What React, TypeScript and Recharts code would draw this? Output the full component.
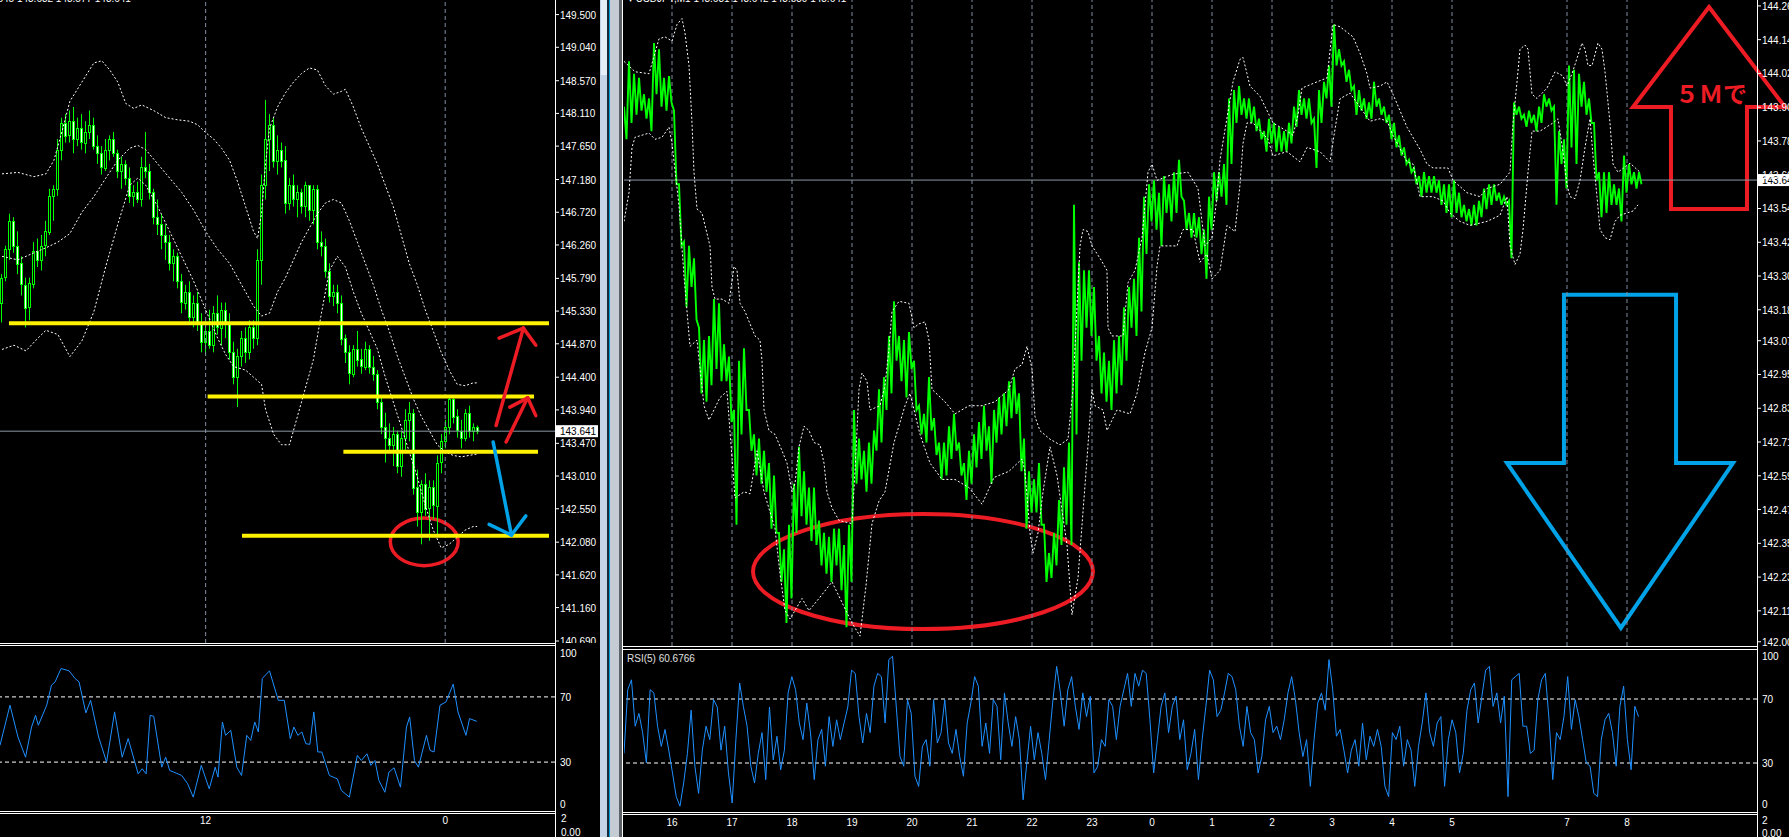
import React from 'react'
import {
  ComposedChart,
  LineChart,
  Line,
  Bar,
  XAxis,
  YAxis,
  ReferenceLine,
  ReferenceArea,
} from 'recharts'

const FONT = '"Liberation Sans", Arial, sans-serif'
const WHITE = '#ffffff'
const LIME = '#00ff00'
const RSI_BLUE = '#1e90ff'
const GRID = '#7f8ca0'
const NOW_LINE = '#8c99a6'
const YELLOW = '#fff200'
const RED = '#ed1c24'
const BLUE = '#00a2e8'

// ---------- left pane (candles) ----------
const LEFT_SLOTS = 139
const LEFT_DOMAIN = [140.662, 149.705]

const leftOpen = [
  145.45, 145.8, 146.2, 146.6, 146.25, 146.0, 145.7, 145.38, 145.72, 146.18,
  146.05, 146.25, 146.45, 146.95, 147.05, 147.6, 147.98, 147.8, 148.0, 147.75,
  147.9, 147.7, 147.85, 147.95, 147.65, 147.55, 147.35, 147.6, 147.75, 147.55,
  147.3, 147.4, 147.2, 146.95, 147.0, 146.9, 147.35, 147.3, 147.0, 146.65,
  146.55, 146.4, 146.3, 146.0, 146.1, 145.75, 145.45, 145.6, 145.25, 145.45,
  145.15, 144.9, 145.05, 144.85, 145.3, 145.1, 145.35, 145.15, 144.75, 144.4,
  144.7, 144.95, 144.75, 145.1, 144.95, 146.05, 147.1, 147.75, 147.95, 147.45,
  147.6, 147.45, 146.85, 147.1, 146.9, 147.0, 146.8, 147.1, 146.75, 147.05,
  146.3, 146.25, 145.9, 145.55, 145.6, 145.45, 144.95, 144.75, 144.45, 144.8,
  144.65, 144.55, 144.8, 144.55, 144.45, 144.05, 143.7, 143.55, 143.45, 143.6,
  143.15, 143.55, 143.8, 143.9, 142.85, 142.5, 142.9, 142.55, 142.85, 142.6,
  143.2, 143.5, 143.7, 144.1, 143.85, 143.65, 143.55, 143.9, 143.65, 143.7,
]
const leftHigh = [
  145.85, 146.25, 146.7, 146.65, 146.45, 146.1, 145.8, 145.8, 146.3, 146.35,
  146.4, 146.6, 147.05, 147.1, 147.75, 148.05, 148.1, 148.15, 148.2, 148.05,
  148.1, 148.0, 148.15, 148.05, 147.8, 147.65, 147.75, 147.8, 147.85, 147.6,
  147.5, 147.45, 147.35, 147.1, 147.15, 147.5, 147.85, 147.4, 147.05, 146.9,
  146.7, 146.55, 146.4, 146.2, 146.15, 145.85, 145.7, 145.75, 145.55, 145.6,
  145.3, 145.2, 145.35, 145.4, 145.55, 145.45, 145.45, 145.3, 144.9, 144.8,
  145.05, 145.1, 145.2, 145.2, 146.2, 147.25, 148.3, 148.1, 148.05, 147.8,
  147.7, 147.65, 147.2, 147.25, 147.1, 147.05, 147.15, 147.1, 147.1, 147.1,
  146.45, 146.35, 146.0, 145.7, 145.7, 145.55, 145.0, 144.85, 144.85, 145.05,
  144.8, 144.9, 144.85, 144.7, 144.5, 144.15, 143.9, 143.75, 143.7, 143.65,
  143.65, 143.95, 144.05, 143.95, 143.1, 142.95, 143.05, 142.95, 142.95, 143.3,
  143.6, 143.8, 144.15, 144.15, 143.95, 143.8, 143.95, 144.0, 143.75, 143.72,
]
const leftLow = [
  145.17, 145.75, 146.05, 146.15, 145.85, 145.55, 145.1, 145.2, 145.65, 145.95,
  145.9, 146.1, 146.4, 146.6, 146.95, 147.45, 147.7, 147.7, 147.55, 147.65,
  147.6, 147.55, 147.75, 147.6, 147.4, 147.25, 147.3, 147.45, 147.5, 147.2,
  147.05, 147.1, 146.85, 146.8, 146.85, 146.8, 147.2, 146.9, 146.55, 146.4,
  146.2, 146.05, 145.9, 145.75, 145.65, 145.3, 145.35, 145.15, 145.1, 145.05,
  144.75, 144.7, 144.8, 144.75, 145.0, 144.85, 144.95, 144.65, 144.3, 143.98,
  144.55, 144.6, 144.65, 144.8, 144.85, 145.7, 146.9, 147.3, 147.35, 147.25,
  147.35, 146.7, 146.75, 146.8, 146.65, 146.7, 146.65, 146.6, 146.55, 146.2,
  146.1, 145.8, 145.45, 145.4, 145.3, 144.85, 144.6, 144.3, 144.4, 144.55,
  144.45, 144.5, 144.45, 144.35, 143.95, 143.6, 143.2, 143.35, 143.15, 143.05,
  143.0, 143.35, 143.5, 142.75, 142.3, 142.05, 142.45, 142.1, 142.4, 142.15,
  143.05, 143.4, 143.6, 143.75, 143.55, 143.4, 143.5, 143.55, 143.5, 143.6,
]
const leftClose = [
  145.8, 146.2, 146.6, 146.25, 146.0, 145.7, 145.38, 145.72, 146.18, 146.05,
  146.25, 146.45, 146.95, 147.05, 147.6, 147.98, 147.8, 148.0, 147.75, 147.9,
  147.7, 147.85, 147.95, 147.65, 147.55, 147.35, 147.6, 147.75, 147.55, 147.3,
  147.4, 147.2, 146.95, 147.0, 146.9, 147.35, 147.3, 147.0, 146.65, 146.55,
  146.4, 146.3, 146.0, 146.1, 145.75, 145.45, 145.6, 145.25, 145.45, 145.15,
  144.9, 145.05, 144.85, 145.3, 145.1, 145.35, 145.15, 144.75, 144.4, 144.7,
  144.95, 144.75, 145.1, 144.95, 146.05, 147.1, 147.75, 147.95, 147.45, 147.6,
  147.45, 146.85, 147.1, 146.9, 147.0, 146.8, 147.1, 146.75, 147.05, 146.3,
  146.25, 145.9, 145.55, 145.6, 145.45, 144.95, 144.75, 144.45, 144.8, 144.65,
  144.55, 144.8, 144.55, 144.45, 144.05, 143.7, 143.55, 143.45, 143.6, 143.15,
  143.55, 143.8, 143.9, 142.85, 142.5, 142.9, 142.55, 142.85, 142.6, 143.2,
  143.5, 143.7, 144.1, 143.85, 143.65, 143.55, 143.9, 143.65, 143.7, 143.641,
]

// bollinger bands, [bar index, price]
const leftUpper = [
  [0, 147.26], [4, 147.28], [8, 147.22], [11, 147.26], [13, 147.45], [15, 147.85], [17, 148.28],
  [20, 148.55], [23, 148.82], [25, 148.85], [27, 148.72], [29, 148.55], [31, 148.25], [33, 148.18],
  [35, 148.23], [38, 148.15], [41, 148.05], [44, 148.02], [47, 148.0], [49, 147.95], [51, 147.84],
  [53, 147.75], [55, 147.62], [57, 147.45], [59, 147.15], [61, 146.8], [63, 146.45], [64, 146.35],
  [65, 146.7], [66, 147.4], [67, 147.9], [69, 148.2], [71, 148.4], [73, 148.55], [75, 148.67],
  [77, 148.75], [79, 148.72], [81, 148.5], [83, 148.38], [85, 148.42], [86, 148.45], [88, 148.2],
  [90, 147.9], [92, 147.65], [94, 147.4], [96, 147.1], [98, 146.8], [100, 146.4], [102, 146.0],
  [104, 145.7], [106, 145.35], [108, 145.05], [110, 144.75], [112, 144.5], [114, 144.3],
  [116, 144.28], [118, 144.32], [119, 144.32],
]
const leftMiddle = [
  [0, 146.1], [4, 146.05], [8, 146.15], [11, 146.22], [14, 146.3], [17, 146.42], [20, 146.72],
  [23, 146.94], [26, 147.2], [29, 147.45], [32, 147.62], [34, 147.66], [36, 147.6], [39, 147.4],
  [42, 147.2], [45, 147.0], [48, 146.75], [51, 146.45], [54, 146.2], [57, 146.0], [60, 145.7],
  [63, 145.4], [65, 145.26], [67, 145.3], [69, 145.6], [71, 145.8], [73, 146.05], [75, 146.3],
  [77, 146.5], [79, 146.7], [81, 146.85], [83, 146.9], [85, 146.85], [87, 146.6], [89, 146.3],
  [91, 146.0], [93, 145.7], [95, 145.35], [97, 145.05], [99, 144.7], [101, 144.4], [103, 144.1],
  [105, 143.85], [107, 143.65], [109, 143.45], [111, 143.35], [113, 143.3], [115, 143.28],
  [117, 143.3], [119, 143.32],
]
const leftLower = [
  [0, 144.79], [3, 144.85], [6, 144.77], [9, 144.95], [11, 145.06], [14, 145.0], [17, 144.69],
  [20, 144.91], [23, 145.32], [26, 145.96], [29, 146.55], [32, 147.1], [34, 147.2], [36, 147.1],
  [39, 146.8], [42, 146.45], [45, 146.1], [48, 145.75], [51, 145.35], [54, 144.95], [56, 144.72],
  [58, 144.55], [61, 144.5], [63, 144.4], [65, 144.3], [66, 143.95], [68, 143.6], [70, 143.45],
  [72, 143.45], [74, 143.85], [76, 144.25], [78, 144.65], [80, 145.3], [82, 145.9], [84, 146.1],
  [86, 145.95], [88, 145.6], [90, 145.3], [92, 145.05], [94, 144.8], [96, 144.4], [98, 144.05],
  [100, 143.7], [102, 143.35], [104, 143.0], [106, 142.6], [108, 142.25], [110, 142.0],
  [112, 142.05], [114, 142.15], [116, 142.25], [118, 142.3], [119, 142.3],
]

const leftRsi = [
  [-0.5, 40.3], [2, 64.9], [4, 45.4], [5.9, 33], [7.4, 51.5], [8.4, 58.7], [9.1, 52.6], [11.2, 64.9],
  [12.4, 77.2], [13.3, 79.2], [14.8, 87.4], [16.8, 86], [18.3, 81.3], [19.3, 79.2], [21, 60.2],
  [22.2, 67.9], [24.2, 45.4], [26.2, 30], [28.2, 60.8], [30.1, 33], [31.6, 44.4], [34.1, 22.8],
  [35.1, 25.9], [36.1, 22.8], [37.1, 58.7], [38, 58.1], [40, 26.9], [41, 33], [42, 24.9], [45, 21.8],
  [46.5, 16.7], [47.9, 8.5], [49.9, 28], [51.9, 13.6], [53.4, 26.9], [54.1, 20.8], [55.2, 54.6],
  [56, 46.4], [57.3, 49.5], [58.8, 26.9], [60, 21.8], [61.3, 46.4], [62.3, 43.3], [63.3, 54.6],
  [64.2, 48.5], [65.2, 81.3], [67, 86], [69.2, 67.9], [70.7, 67.9], [72.2, 44.4], [73.1, 51.5],
  [74.1, 46.4], [75.1, 48.5], [76.1, 41.3], [77.1, 40.9], [78.1, 60.8], [79.1, 36.2], [80.1, 36.2],
  [82, 21.8], [84, 19.7], [85, 12.6], [87, 8.5], [89, 34.1], [90, 31], [91.4, 35.1], [92.4, 28],
  [93.4, 31], [94.4, 18.7], [95.9, 11.5], [96.9, 23.8], [98.2, 26.5], [99.8, 14.6], [101.3, 51.5],
  [102.1, 57.7], [103.3, 31], [104.3, 26.9], [106.3, 46.4], [107.2, 37.2], [108.2, 36.2],
  [109.7, 64.9], [111.2, 66.9], [113, 77.8], [114.2, 60.8], [116.2, 46.4], [117.1, 56.7], [118.9, 55],
]

const leftPriceTicks = [
  149.5, 149.04, 148.57, 148.11, 147.65, 147.18, 146.72, 146.26, 145.79, 145.33,
  144.87, 144.4, 143.94, 143.47, 143.01, 142.55, 142.08, 141.62, 141.16, 140.69,
]
const leftTimeTicks = [51, 111]
const leftTimeLabels = ['12', '0']

// hand-drawn levels: [from bar, to bar, price]
const leftLevels = [
  [1.75, 137, 145.16],
  [51.5, 133.25, 144.13],
  [85.5, 134.25, 143.35],
  [60.1, 137, 142.17],
]
// arrows: tail, head, barb, barb
const leftArrows = [
  { color: RED, pts: [[123.75, 143.72], [130.58, 145.09], [124.5, 144.95], [133.7, 144.85]] },
  { color: RED, pts: [[126.25, 143.49], [131.65, 144.11], [127.2, 143.98], [133.7, 143.86]] },
  { color: BLUE, pts: [[123, 143.49], [127.6, 142.18], [122, 142.33], [131.2, 142.45]] },
]

// ---------- right pane (M1) ----------
const RIGHT_DOMAIN = [141.985, 144.281]
const RIGHT_SPAN = 1133
const PRICE_STEP = 5
const RSI_STEP = 3.73

const rightHigh = [
  143.902, 144.063, 144.019, 144.004, 143.946, 143.931, 144.128, 144.106, 144.004, 144.011,
  143.888, 143.626, 143.422, 143.407, 143.363, 143.116, 143.072, 143.087, 143.218, 143.203,
  143.057, 143.014, 142.824, 142.999, 143.043, 142.824, 142.737, 142.722, 142.679, 142.635,
  142.591, 142.387, 142.329, 142.416, 142.562, 142.693, 142.606, 142.548, 142.548, 142.431,
  142.387, 142.373, 142.402, 142.402, 142.344, 142.416, 142.824, 142.722, 142.679, 142.708,
  142.751, 142.897, 142.941, 143.087, 143.21, 143.087, 143.072, 143.101, 142.999, 142.839,
  142.81, 142.941, 142.795, 142.708, 142.708, 142.766, 142.81, 142.708, 142.635, 142.679,
  142.737, 142.781, 142.839, 142.766, 142.824, 142.868, 142.883, 142.926, 142.941, 142.883,
  142.722, 142.606, 142.577, 142.635, 142.416, 142.315, 142.387, 142.504, 142.62, 142.708,
  143.553, 143.349, 143.32, 143.32, 143.261, 143.087, 143.028, 142.999, 143.072, 143.087,
  143.189, 143.261, 143.29, 143.436, 143.582, 143.626, 143.64, 143.596, 143.655, 143.626,
  143.669, 143.713, 143.567, 143.524, 143.524, 143.509, 143.465, 143.582, 143.669, 143.669,
  143.698, 143.931, 143.961, 143.975, 143.931, 143.931, 143.902, 143.859, 143.815, 143.859,
  143.844, 143.83, 143.815, 143.844, 143.902, 143.961, 143.931, 143.931, 143.859, 143.961,
  143.99, 144.048, 144.194, 144.106, 144.063, 144.033, 143.975, 143.961, 143.931, 143.917,
  143.99, 143.931, 143.902, 143.873, 143.844, 143.8, 143.757, 143.713, 143.684, 143.655,
  143.669, 143.655, 143.655, 143.64, 143.626, 143.626, 143.64, 143.596, 143.553, 143.538,
  143.553, 143.567, 143.611, 143.626, 143.626, 143.596, 143.582, 143.567, 143.917, 143.902,
  143.873, 143.888, 143.873, 143.902, 143.946, 143.931, 143.902, 143.815, 143.786, 144.048,
  144.033, 144.019, 143.99, 143.931, 143.844, 143.669, 143.669, 143.669, 143.626, 143.611,
  143.728, 143.698, 143.669, 143.669,
]
const rightLow = [
  143.786, 143.844, 143.873, 143.888, 143.859, 143.815, 143.946, 143.902, 143.888, 143.917,
  143.626, 143.407, 143.189, 143.261, 143.145, 142.883, 142.853, 142.912, 142.97, 142.926,
  142.926, 142.781, 142.416, 142.737, 142.824, 142.679, 142.591, 142.562, 142.533, 142.402,
  142.387, 142.213, 142.067, 142.154, 142.387, 142.446, 142.416, 142.358, 142.344, 142.271,
  142.242, 142.213, 142.271, 142.183, 142.052, 142.213, 142.562, 142.577, 142.533, 142.562,
  142.679, 142.708, 142.824, 142.883, 142.999, 142.926, 142.868, 142.97, 142.824, 142.737,
  142.708, 142.751, 142.664, 142.577, 142.591, 142.65, 142.679, 142.591, 142.504, 142.562,
  142.62, 142.65, 142.679, 142.562, 142.708, 142.737, 142.766, 142.795, 142.81, 142.606,
  142.402, 142.46, 142.46, 142.416, 142.213, 142.227, 142.271, 142.344, 142.416, 142.344,
  142.737, 142.999, 143.116, 143.087, 142.999, 142.883, 142.853, 142.824, 142.883, 142.912,
  142.999, 143.116, 143.087, 143.174, 143.378, 143.494, 143.465, 143.407, 143.524, 143.494,
  143.524, 143.582, 143.465, 143.436, 143.436, 143.378, 143.29, 143.465, 143.567, 143.582,
  143.553, 143.698, 143.844, 143.873, 143.859, 143.844, 143.815, 143.786, 143.742, 143.771,
  143.742, 143.742, 143.742, 143.771, 143.83, 143.873, 143.859, 143.844, 143.684, 143.844,
  143.931, 143.902, 144.048, 144.048, 143.99, 143.961, 143.873, 143.888, 143.859, 143.859,
  143.902, 143.873, 143.844, 143.786, 143.757, 143.728, 143.698, 143.669, 143.626, 143.582,
  143.596, 143.596, 143.596, 143.553, 143.524, 143.509, 143.524, 143.509, 143.494, 143.48,
  143.48, 143.509, 143.538, 143.553, 143.567, 143.553, 143.553, 143.363, 143.873, 143.859,
  143.83, 143.844, 143.815, 143.844, 143.902, 143.888, 143.553, 143.698, 143.611, 143.757,
  143.698, 143.902, 143.873, 143.844, 143.64, 143.509, 143.524, 143.553, 143.553, 143.494,
  143.596, 143.626, 143.611, 143.626,
]

// [minute, price]
const rightUpper = [
  [0, 144.063], [11, 144.026], [25, 144.019], [35, 144.143], [41, 144.15], [48, 144.135],
  [53, 144.194], [58, 144.215], [61, 144.164], [65, 144.048], [68, 143.844], [70, 143.669],
  [73, 143.538], [78, 143.524], [83, 143.451], [86, 143.407], [88, 143.261], [91, 143.218],
  [98, 143.218], [105, 143.203], [110, 143.334], [113, 143.32], [116, 143.203], [121, 143.174],
  [126, 143.13], [131, 143.087], [136, 143.072], [138, 142.999], [140, 142.824], [145, 142.751],
  [151, 142.737], [158, 142.679], [163, 142.635], [168, 142.533], [171, 142.562], [175, 142.693],
  [180, 142.766], [185, 142.751], [190, 142.708], [196, 142.7], [200, 142.635], [203, 142.533],
  [208, 142.475], [215, 142.431], [228, 142.42], [231, 142.606], [235, 142.897], [238, 142.955],
  [243, 142.926], [246, 142.824], [256, 142.839], [261, 142.912], [265, 143.043], [268, 143.174],
  [275, 143.21], [285, 143.203], [290, 143.116], [295, 143.13], [301, 143.137], [305, 143.072],
  [308, 142.897], [321, 142.853], [331, 142.81], [345, 142.839], [358, 142.839], [371, 142.853],
  [385, 142.897], [391, 142.97], [398, 142.985], [403, 143.05], [408, 142.97], [411, 142.8],
  [416, 142.75], [426, 142.72], [436, 142.7], [444, 142.72], [449, 142.9], [456, 143.407],
  [459, 143.465], [464, 143.458], [468, 143.407], [476, 143.363], [483, 143.32], [484, 143.116],
  [488, 143.087], [499, 143.087], [504, 143.276], [511, 143.32], [518, 143.436], [524, 143.669],
  [528, 143.698], [533, 143.64], [549, 143.662], [564, 143.669], [574, 143.611], [578, 143.494],
  [581, 143.407], [588, 143.436], [593, 143.582], [596, 143.713], [609, 143.99], [616, 144.07],
  [619, 144.077], [623, 144.019], [626, 143.975], [636, 143.939], [649, 143.844], [663, 143.815],
  [669, 143.8], [674, 143.873], [678, 143.968], [693, 143.99], [703, 144.004], [709, 144.194],
  [716, 144.186], [729, 144.15], [736, 144.092], [743, 144.019], [746, 143.968], [756, 143.975],
  [763, 143.99], [769, 143.946], [783, 143.829], [796, 143.75], [803, 143.698], [809, 143.684],
  [824, 143.684], [829, 143.64], [843, 143.596], [856, 143.582], [863, 143.611], [876, 143.626],
  [886, 143.669], [889, 143.844], [893, 143.99], [896, 144.106], [901, 144.121], [904, 144.106],
  [908, 143.946], [913, 143.931], [923, 143.968], [931, 144.026], [939, 144.011], [943, 143.975],
  [948, 144.019], [958, 144.128], [961, 144.106], [964, 144.048], [968, 144.048], [974, 144.128],
  [978, 144.106], [981, 144.026], [986, 143.844], [989, 143.698], [994, 143.669], [1006, 143.701],
  [1016, 143.669],
]
const rightLower = [
  [0, 143.494], [5, 143.596], [8, 143.757], [11, 143.793], [25, 143.808], [31, 143.786],
  [38, 143.793], [45, 143.829], [48, 143.771], [55, 143.55], [60, 143.3], [66, 143.05],
  [73, 143.072], [80, 142.839], [85, 142.788], [96, 142.868], [103, 142.89], [111, 142.511],
  [120, 142.533], [126, 142.526], [133, 142.679], [140, 142.533], [151, 142.402], [156, 142.242],
  [161, 142.111], [166, 142.081], [178, 142.154], [185, 142.111], [195, 142.154], [208, 142.213],
  [220, 142.125], [228, 142.067], [236, 142.02], [242, 142.2], [248, 142.42], [255, 142.5],
  [261, 142.533], [270, 142.708], [281, 142.839], [286, 142.883], [296, 142.737], [306, 142.635],
  [318, 142.577], [331, 142.577], [345, 142.548], [358, 142.489], [370, 142.584], [385, 142.606],
  [398, 142.65], [401, 142.606], [406, 142.387], [409, 142.315], [414, 142.387], [419, 142.533],
  [426, 142.693], [433, 142.591], [443, 142.344], [448, 142.096], [454, 142.227], [463, 142.65],
  [468, 142.897], [471, 142.839], [479, 142.824], [483, 142.751], [493, 142.824], [506, 142.81],
  [513, 142.883], [521, 143.028], [528, 143.116], [533, 143.334], [536, 143.407], [553, 143.407],
  [559, 143.465], [569, 143.465], [576, 143.349], [583, 143.378], [588, 143.29], [596, 143.32],
  [603, 143.48], [611, 143.458], [616, 143.625], [619, 143.771], [623, 143.844], [629, 143.844],
  [644, 143.786], [649, 143.727], [663, 143.742], [676, 143.706], [683, 143.757], [696, 143.742],
  [706, 143.706], [710, 143.8], [716, 143.93], [726, 143.95], [736, 143.9], [746, 143.85],
  [756, 143.859], [763, 143.851], [769, 143.8], [783, 143.706], [789, 143.698], [796, 143.582],
  [809, 143.582], [819, 143.567], [826, 143.524], [836, 143.494], [846, 143.48], [863, 143.494],
  [876, 143.516], [883, 143.582], [886, 143.407], [891, 143.341], [896, 143.378], [899, 143.465],
  [904, 143.669], [908, 143.815], [916, 143.815], [929, 143.844], [934, 143.859], [939, 143.742],
  [943, 143.625], [946, 143.582], [951, 143.575], [956, 143.64], [961, 143.757], [966, 143.859],
  [969, 143.727], [973, 143.582], [976, 143.465], [981, 143.436], [986, 143.429], [991, 143.494],
  [996, 143.516], [1009, 143.531], [1014, 143.553],
]

const rightRsi = [
  36, 75.8, 82, 53, 61, 49, 30, 75.8, 73.8, 53, 40.4, 51, 38, 23.8, 9, 3, 17.5, 36, 63, 28,
  11, 38, 53, 44.6, 69.6, 65, 38, 53, 23.8, 5, 44.6, 80, 65.4, 53, 28, 17.5, 36, 49, 19.6, 65,
  32, 46.7, 25.8, 38, 73.8, 84, 75.8, 55, 44.6, 67.5, 48.8, 19.6, 44.6, 51, 28, 59, 40.4, 57, 44.6, 55,
  65, 88, 86, 59, 42.5, 61, 49, 78, 86, 84, 55, 94.6, 96.7, 65, 34, 28, 69.6, 61, 21.7, 15.4,
  40.4, 44.6, 28, 69.6, 42.5, 49, 69.6, 42.5, 36, 51, 34, 21.7, 55, 67.5, 84, 78, 40.4, 55, 36, 69.6,
  65.4, 32, 73.8, 55, 40.4, 59, 44.6, 7, 30, 53, 32, 49, 36, 19.6, 44.6, 69.6, 90.4, 73.8, 53, 75.8,
  84, 65.4, 51, 73.8, 59, 71.7, 23.8, 28, 44.6, 40.4, 69.6, 65.4, 44.6, 65.4, 75.8, 86, 65.4, 86, 78, 88,
  86, 57, 23.8, 44.6, 65.4, 73.8, 49, 65.4, 71.7, 44.6, 57, 25.8, 36, 51, 19.6, 44.6, 65.4, 88, 82, 59,
  63, 73.8, 86, 84, 75.8, 53, 40.4, 65.4, 49, 44.6, 23.8, 34, 57, 65.4, 49, 53, 44.6, 57, 73.8, 84,
  69.6, 49, 34, 44.6, 15.4, 44.6, 67.5, 73.8, 63, 94.6, 75.8, 46.7, 51, 38, 23.8, 38, 44.6, 28, 55, 32,
  46.7, 40.4, 51, 40.4, 15.4, 9, 49, 44.6, 53, 28, 44.6, 38, 15.4, 40.4, 55, 73.8, 49, 40.4, 55, 59,
  15.4, 44.6, 57, 49, 23.8, 36, 63, 75.8, 80, 55, 71.7, 88, 90.4, 65.4, 73.8, 55, 71.7, 9, 82, 84,
  86, 53, 53, 36, 38, 69.6, 82, 86, 57, 19.6, 49, 44.6, 59, 84, 51, 69.6, 59, 44.6, 30, 28,
  11, 9, 44.6, 57, 61, 49, 28, 65.4, 78, 44.6, 25.8, 65.4, 59,
]

const rightPriceTicks = [
  144.26, 144.14, 144.02, 143.9, 143.78, 143.66, 143.54, 143.42, 143.3, 143.18,
  143.07, 142.95, 142.83, 142.71, 142.59, 142.47, 142.35, 142.23, 142.11, 142.0,
]
const rightTimeTicks = [48, 108, 168, 228, 288, 348, 408, 468, 528, 588, 648, 708, 768, 828, 943, 1003]
const rightTimeLabels = ['16', '17', '18', '19', '20', '21', '22', '23', '0', '1', '2', '3', '4', '5', '7', '8']

const LAST_PRICE = 143.641
const rsiTicks = [0, 30, 70, 100]

// ---------- tables ----------
const leftData: any[] = Array.from({ length: LEFT_SLOTS }, (_, i) => {
  const row: any = { i }
  if (i < leftClose.length) {
    row.hl = [leftLow[i], leftHigh[i]]
    row.o = leftOpen[i]
    row.c = leftClose[i]
  }
  return row
})
leftUpper.forEach(([i, p]) => (leftData[i].bu = p))
leftMiddle.forEach(([i, p]) => (leftData[i].bm = p))
leftLower.forEach(([i, p]) => (leftData[i].bl = p))

const leftRsiData = leftRsi.map(([x, v]) => ({ x, v }))

// each 5-minute block is drawn high then low, like a run of M1 bars
const rightMap = new Map<number, any>()
const rightRow = (t: number) => {
  if (!rightMap.has(t)) rightMap.set(t, { t })
  return rightMap.get(t)
}
rightHigh.forEach((h, k) => {
  rightRow(k * PRICE_STEP).px = h
  rightRow(k * PRICE_STEP + PRICE_STEP / 2).px = rightLow[k]
})
rightUpper.forEach(([t, p]) => (rightRow(t).up = p))
rightLower.forEach(([t, p]) => (rightRow(t).dn = p))
const rightData = [...rightMap.values()].sort((a, b) => a.t - b.t)

const rightRsiData = rightRsi.map((v, i) => ({ x: i * RSI_STEP, v }))

const labelMap = (ticks: number[], labels: string[]) =>
  Object.fromEntries(ticks.map((t, n) => [t, labels[n]]))
const leftTimeMap = labelMap(leftTimeTicks, leftTimeLabels)
const rightTimeMap = labelMap(rightTimeTicks, rightTimeLabels)

// ---------- small renderers ----------
const Candle = (props: any) => {
  const { x, y, width, height, payload } = props
  if (!payload || payload.o == null) return null
  const [lo, hi] = payload.hl
  const top = Math.min(y, y + height)
  const h = Math.abs(height)
  const k = hi > lo ? h / (hi - lo) : 0
  const cx = Math.floor(x + width / 2) + 0.5
  const yO = top + (hi - payload.o) * k
  const yC = top + (hi - payload.c) * k
  const bTop = Math.round(Math.min(yO, yC)) + 0.5
  const bH = Math.max(1, Math.round(Math.abs(yO - yC)))
  const bull = payload.c >= payload.o
  return (
    <g>
      <line x1={cx} x2={cx} y1={top} y2={top + h} stroke={LIME} strokeWidth={1} />
      <rect x={cx - 1} y={bTop} width={2} height={bH} fill={bull ? '#000' : '#fff'} stroke={LIME} strokeWidth={1} />
    </g>
  )
}

const priceTick = (digits: number) => (p: any) => (
  <text x={p.x} y={p.y + 4} fill={WHITE} fontSize={10} fontFamily={FONT}>
    {Number(p.payload.value).toFixed(digits)}
  </text>
)

const rsiTick = (p: any) => {
  const v = p.payload.value
  const dy = v === 100 ? 9 : v === 0 ? -3 : 4
  return (
    <text x={p.x} y={p.y + dy} fill={WHITE} fontSize={10} fontFamily={FONT}>
      {v}
    </text>
  )
}

const timeTick = (labels: Record<string, string>, dy: number) => (p: any) => (
  <text x={p.x} y={p.y + dy} textAnchor="middle" fill={WHITE} fontSize={10} fontFamily={FONT}>
    {labels[p.payload.value]}
  </text>
)

const NowBox = (props: any) => {
  const vb = props.viewBox || {}
  const x = (vb.x ?? 0) + (vb.width ?? 0) + 1
  const y = vb.y ?? 0
  return (
    <g>
      <rect x={x} y={y - 6} width={props.w} height={12} fill="#fff" />
      <text x={x + 4} y={y + 4} fill="#000" fontSize={10} fontFamily={FONT}>
        {LAST_PRICE.toFixed(3)}
      </text>
    </g>
  )
}

const EllipseShape = (p: any) => (
  <ellipse
    cx={p.x + p.width / 2}
    cy={p.y + p.height / 2}
    rx={Math.abs(p.width) / 2}
    ry={Math.abs(p.height) / 2}
    fill="none"
    stroke={RED}
    strokeWidth={p.sw}
  />
)

const UpArrow = (p: any) => {
  const { x, y, width: w, height: h } = p
  const pts = [
    [0.5, 0], [1, 0.495], [0.75, 0.495], [0.75, 1], [0.25, 1], [0.25, 0.495], [0, 0.495],
  ]
    .map(([a, b]) => `${x + a * w},${y + b * h}`)
    .join(' ')
  return (
    <g>
      <polygon points={pts} fill="none" stroke={RED} strokeWidth={4} />
      <text
        x={x + w * 0.513}
        y={y + h * 0.475}
        textAnchor="middle"
        fill={RED}
        fontSize={24}
        fontWeight="bold"
        fontFamily='"Noto Sans CJK JP", sans-serif'
      >
        ５Ｍで
      </text>
    </g>
  )
}

const DownArrow = (p: any) => {
  const { x, y, width: w, height: h } = p
  const pts = [
    [0.252, 0], [0.748, 0], [0.748, 0.505], [1, 0.505], [0.504, 1], [0, 0.505], [0.252, 0.505],
  ]
    .map(([a, b]) => `${x + a * w},${y + b * h}`)
    .join(' ')
  return <polygon points={pts} fill="none" stroke={BLUE} strokeWidth={4} />
}

const box = (left: number, top: number, width: number, height: number, bg: string) => (
  <div key={`${left}-${top}-${width}-${bg}`} style={{ position: 'absolute', left, top, width, height, background: bg }} />
)

const textAt = (left: number, top: number, s: string, extra: any = {}) => (
  <div
    key={`${left}-${top}-${s}`}
    style={{ position: 'absolute', left, top, color: WHITE, fontSize: 10, fontFamily: FONT, whiteSpace: 'nowrap', lineHeight: '12px', ...extra }}
  >
    {s}
  </div>
)

export default function App() {
  return (
    <div style={{ position: 'fixed', left: 0, top: 0, width: 1789, height: 837, background: '#000', overflow: 'hidden' }}>
      {/* left main chart */}
      <div style={{ position: 'absolute', left: 0, top: 0 }}>
        <ComposedChart width={600} height={643} data={leftData} margin={{ top: 0, right: 0, bottom: 0, left: 0 }}>
          <XAxis dataKey="i" hide />
          <XAxis xAxisId="n" type="number" dataKey="i" domain={[-0.5, LEFT_SLOTS - 0.5]} hide allowDataOverflow />
          <YAxis
            orientation="right"
            width={45}
            domain={LEFT_DOMAIN}
            allowDataOverflow
            ticks={leftPriceTicks}
            interval={0}
            axisLine={false}
            tickLine={{ stroke: WHITE }}
            tickSize={4}
            tickMargin={1}
            tick={priceTick(3)}
          />
          {leftTimeTicks.map((t) => (
            <ReferenceLine key={t} xAxisId="n" x={t} stroke={GRID} strokeDasharray="4 3" />
          ))}
          <ReferenceLine xAxisId="n" y={LAST_PRICE} stroke={NOW_LINE} label={<NowBox w={42} />} />
          <Line dataKey="bu" stroke={WHITE} strokeDasharray="2 2" strokeWidth={1} dot={false} connectNulls isAnimationActive={false} />
          <Line dataKey="bm" stroke={WHITE} strokeDasharray="2 2" strokeWidth={1} dot={false} connectNulls isAnimationActive={false} />
          <Line dataKey="bl" stroke={WHITE} strokeDasharray="2 2" strokeWidth={1} dot={false} connectNulls isAnimationActive={false} />
          <Bar dataKey="hl" shape={(p: any) => <Candle {...p} />} isAnimationActive={false} />
          {leftLevels.map(([a, b, p]) => (
            <ReferenceLine
              key={`lv${p}`}
              xAxisId="n"
              segment={[{ x: a, y: p }, { x: b, y: p }]}
              stroke={YELLOW}
              strokeWidth={4}
            />
          ))}
          <ReferenceArea
            xAxisId="n"
            x1={97.25}
            x2={114.25}
            y1={141.75}
            y2={142.42}
            ifOverflow="visible"
            shape={(p: any) => <EllipseShape {...p} sw={3.5} />}
          />
          {leftArrows.map((a, n) =>
            [[a.pts[0], a.pts[1]], [a.pts[2], a.pts[1]], [a.pts[3], a.pts[1]]].map(([p, q], m) => (
              <ReferenceLine
                key={`ar${n}-${m}`}
                xAxisId="n"
                segment={[{ x: p[0], y: p[1] }, { x: q[0], y: q[1] }]}
                stroke={a.color}
                strokeWidth={3.5}
                strokeLinecap="round"
                ifOverflow="visible"
              />
            ))
          )}
        </ComposedChart>
      </div>

      {/* left RSI */}
      <div style={{ position: 'absolute', left: 0, top: 646 }}>
        <LineChart width={600} height={191} data={leftRsiData} margin={{ top: 2, right: 0, bottom: 0, left: 0 }}>
          <XAxis
            type="number"
            dataKey="x"
            domain={[-0.5, LEFT_SLOTS - 0.5]}
            allowDataOverflow
            ticks={leftTimeTicks}
            interval={0}
            height={26}
            axisLine={false}
            tickLine={false}
            tickSize={0}
            tickMargin={0}
            tick={timeTick(leftTimeMap, 13)}
          />
          <YAxis
            orientation="right"
            width={45}
            domain={[0, 100]}
            ticks={rsiTicks}
            interval={0}
            axisLine={false}
            tickLine={false}
            tickSize={4}
            tickMargin={1}
            tick={rsiTick}
          />
          <ReferenceLine y={70} stroke={WHITE} strokeDasharray="4 3" />
          <ReferenceLine y={30} stroke={WHITE} strokeDasharray="4 3" />
          <Line dataKey="v" stroke={RSI_BLUE} strokeWidth={1} dot={false} isAnimationActive={false} />
        </LineChart>
      </div>

      {/* right main chart */}
      <div style={{ position: 'absolute', left: 622, top: 0 }}>
        <ComposedChart width={1167} height={646} data={rightData} margin={{ top: 0, right: 0, bottom: 0, left: 2 }}>
          <XAxis type="number" dataKey="t" domain={[0, RIGHT_SPAN]} hide allowDataOverflow />
          <YAxis
            orientation="right"
            width={32}
            domain={RIGHT_DOMAIN}
            allowDataOverflow
            ticks={rightPriceTicks}
            interval={0}
            axisLine={false}
            tickLine={{ stroke: WHITE }}
            tickSize={4}
            tickMargin={1}
            tick={priceTick(3)}
          />
          {rightTimeTicks.map((t) => (
            <ReferenceLine key={t} x={t} stroke={GRID} strokeDasharray="4 3" />
          ))}
          <ReferenceLine y={LAST_PRICE} stroke={NOW_LINE} label={<NowBox w={32} />} />
          <Line
            dataKey="px"
            type="linear"
            stroke={LIME}
            strokeWidth={1.9}
            connectNulls
            dot={false}
            isAnimationActive={false}
          />
          <Line dataKey="up" stroke={WHITE} strokeDasharray="2 2" strokeWidth={1} dot={false} connectNulls isAnimationActive={false} />
          <Line dataKey="dn" stroke={WHITE} strokeDasharray="2 2" strokeWidth={1} dot={false} connectNulls isAnimationActive={false} />
          <ReferenceArea
            x1={129}
            x2={469}
            y1={142.045}
            y2={142.454}
            ifOverflow="visible"
            shape={(p: any) => <EllipseShape {...p} sw={4} />}
          />
          <ReferenceArea x1={1009} x2={1161} y1={143.538} y2={144.256} ifOverflow="visible" shape={(p: any) => <UpArrow {...p} />} />
          <ReferenceArea x1={883} x2={1109} y1={142.049} y2={143.233} ifOverflow="visible" shape={(p: any) => <DownArrow {...p} />} />
        </ComposedChart>
      </div>

      {/* right RSI */}
      <div style={{ position: 'absolute', left: 622, top: 650 }}>
        <LineChart width={1167} height={187} data={rightRsiData} margin={{ top: 1, right: 0, bottom: 0, left: 2 }}>
          <XAxis
            type="number"
            dataKey="x"
            domain={[0, RIGHT_SPAN]}
            allowDataOverflow
            ticks={rightTimeTicks}
            interval={0}
            height={26}
            axisLine={false}
            tickLine={false}
            tickSize={0}
            tickMargin={0}
            tick={timeTick(rightTimeMap, 15)}
          />
          <YAxis
            orientation="right"
            width={32}
            domain={[0, 100]}
            ticks={rsiTicks}
            interval={0}
            axisLine={false}
            tickLine={false}
            tickSize={4}
            tickMargin={1}
            tick={rsiTick}
          />
          <ReferenceLine y={70} stroke={WHITE} strokeDasharray="4 3" />
          <ReferenceLine y={30} stroke={WHITE} strokeDasharray="4 3" />
          <Line dataKey="v" stroke={RSI_BLUE} strokeWidth={1} dot={false} isAnimationActive={false} />
        </LineChart>
      </div>

      {/* frame lines */}
      {box(555, 0, 1, 837, WHITE)}
      {box(0, 643, 556, 1, WHITE)}
      {box(0, 645, 556, 1, WHITE)}
      {box(0, 811, 556, 1, WHITE)}
      {box(0, 813, 556, 1, WHITE)}
      {box(622, 0, 1, 837, WHITE)}
      {box(1757, 0, 1, 837, WHITE)}
      {box(622, 646, 1136, 1, WHITE)}
      {box(622, 649, 1136, 1, WHITE)}
      {box(622, 812, 1136, 1, WHITE)}
      {box(622, 814, 1136, 1, WHITE)}

      {/* scrollbar strip between the two windows */}
      {box(600, 0, 7, 837, '#c4d4e6')}
      {box(601, 0, 6, 75, '#e6eef7')}
      {box(607, 0, 2, 837, '#1c2a38')}
      {box(609, 0, 1, 837, '#00a0e0')}
      {box(610, 0, 9, 837, '#c5ccd4')}
      {box(619, 0, 3, 837, '#5c6168')}

      {/* texts */}
      {textAt(-22, -7, '143.645 143.632 143.577 143.641')}
      {textAt(628, -7, '\u25be USDJPY,M1  143.631 143.642 143.630 143.641')}
      {textAt(627, 653, 'RSI(5) 60.6766', { color: '#e0e0e0' })}
      {textAt(561, 813, '2')}
      {textAt(561, 827, '0.00')}
      {textAt(1762, 815, '2')}
      {textAt(1762, 828, '0.00')}
    </div>
  )
}
